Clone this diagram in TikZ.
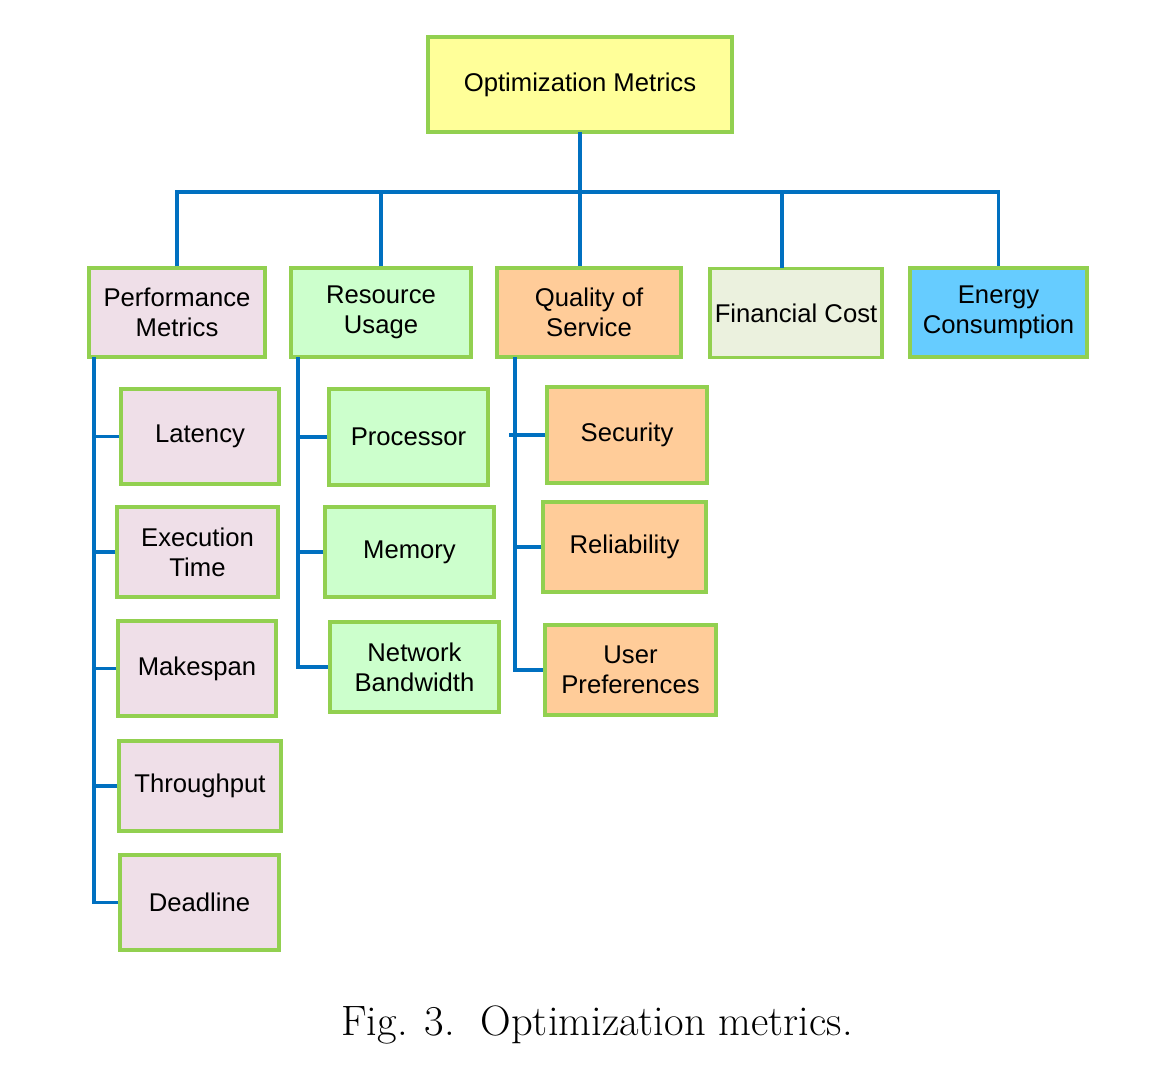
\documentclass[tikz,border=0pt]{standalone}
\usepackage{fontspec}
\newfontfamily\arialf{Liberation Sans}
\definecolor{bgreen}{HTML}{92D050}
\definecolor{lblue}{HTML}{0070C0}
\definecolor{cyel}{HTML}{FFFF99}
\definecolor{cpink}{HTML}{EFDFE8}
\definecolor{cgreen}{HTML}{CCFFCC}
\definecolor{corange}{HTML}{FFCC99}
\definecolor{cfin}{HTML}{EBF1DE}
\definecolor{cblue}{HTML}{66CCFF}
\begin{document}
\begin{tikzpicture}[x=0.02cm,y=-0.02cm,
  box/.style={draw=bgreen,line width=1.9pt,inner sep=0pt,align=center,
    font=\arialf\fontsize{14.6}{17}\selectfont,text=black},
  conn/.style={draw=lblue,line width=1.9pt},
  trunk/.style={draw=lblue,line width=2.5pt}]
\path[use as bounding box] (0,0) rectangle (1158,1086);
% top
\node[box,fill=cyel,minimum width=6.08cm,minimum height=1.9cm] (top) at (580,84.5) {Optimization Metrics};
% level 1
\node[box,fill=cpink,minimum width=3.52cm,minimum height=1.78cm] (perf) at (177,312.5) {Performance\\Metrics};
\node[box,fill=cgreen,minimum width=3.6cm,minimum height=1.78cm] (res) at (381,312.5) {Resource\\Usage};
\node[box,fill=corange,minimum width=3.68cm,minimum height=1.78cm] (qos) at (589,312.5) {Quality of\\Service};
\node[box,fill=cfin,minimum width=3.44cm,minimum height=1.78cm] (fin) at (796,313) {Financial Cost};
\node[box,fill=cblue,minimum width=3.54cm,minimum height=1.78cm] (ene) at (998.5,312.5) {Energy\\Consumption};
% performance children
\node[box,fill=cpink,minimum width=3.16cm,minimum height=1.9cm] (lat) at (200,436.5) {Latency};
\node[box,fill=cpink,minimum width=3.22cm,minimum height=1.8cm] (exe) at (197.5,552) {Execution\\Time};
\node[box,fill=cpink,minimum width=3.16cm,minimum height=1.9cm] (mak) at (197,668.5) {Makespan};
\node[box,fill=cpink,minimum width=3.24cm,minimum height=1.8cm] (thr) at (200,786) {Throughput};
\node[box,fill=cpink,minimum width=3.18cm,minimum height=1.9cm] (dead) at (199.5,902.5) {Deadline};
% resource children
\node[box,fill=cgreen,minimum width=3.18cm,minimum height=1.92cm] (proc) at (408.5,437) {Processor};
\node[box,fill=cgreen,minimum width=3.38cm,minimum height=1.8cm] (mem) at (409.5,552) {Memory};
\node[box,fill=cgreen,minimum width=3.38cm,minimum height=1.8cm] (net) at (414.5,667) {Network\\Bandwidth};
% qos children
\node[box,fill=corange,minimum width=3.2cm,minimum height=1.92cm] (sec) at (627,435) {Security};
\node[box,fill=corange,minimum width=3.26cm,minimum height=1.8cm] (rel) at (624.5,547) {Reliability};
\node[box,fill=corange,minimum width=3.42cm,minimum height=1.8cm] (usr) at (630.5,670) {User\\Preferences};
% caption
\node[font=\fontsize{24.2}{28}\selectfont] (cap) at (597,1025) {Fig. 3.\ \ Optimization metrics.};
% tree connectors
\coordinate (busL) at (177,192);
\coordinate (finTop) at (782,268);
\coordinate (trunkTop) at (580,132);
\draw[trunk] (trunkTop) -- (trunkTop |- qos.north);
\draw[conn] (perf.north) -- (perf.north |- busL) -- (ene.north |- busL) -- (ene.north);
\draw[conn] (res.north) -- (res.north |- busL);
\draw[conn] (finTop) -- (finTop |- busL);
% performance spine
\coordinate (ps) at (94,357);
\draw[conn] (ps) -- (ps |- dead.west) -- (dead.west);
\foreach \n in {lat,exe,mak,thr} \draw[conn] (\n.west) -- (\n.west -| ps);
% resource spine
\coordinate (rs) at (298,357);
\draw[conn] (rs) -- (rs |- net.west) -- (net.west);
\foreach \n in {proc,mem} \draw[conn] (\n.west) -- (\n.west -| rs);
% qos spine
\coordinate (qs) at (515,357);
\draw[conn] (qs) -- (qs |- usr.west) -- (usr.west);
\draw[conn] (sec.west) -- ([xshift=-0.12cm]sec.west -| qs);
\draw[conn] (rel.west) -- (rel.west -| qs);
\end{tikzpicture}
\end{document}
